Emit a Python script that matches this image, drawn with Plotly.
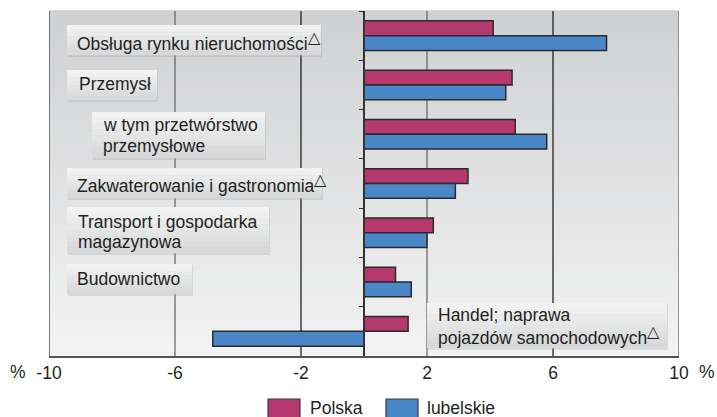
import plotly.graph_objects as go

# ---- data ----
categories = [
    "Obsługa rynku nieruchomości",
    "Przemysł",
    "w tym przetwórstwo przemysłowe",
    "Zakwaterowanie i gastronomia",
    "Transport i gospodarka magazynowa",
    "Budownictwo",
    "Handel; naprawa pojazdów samochodowych",
]
polska = [4.1, 4.7, 4.8, 3.3, 2.2, 1.0, 1.4]
lubelskie = [7.7, 4.5, 5.8, 2.9, 2.0, 1.5, -4.8]
TRI = "<sup><span style='font-size:16px'>△</span></sup>"
label_lines = [
    ["Obsługa rynku nieruchomości" + TRI],
    ["Przemysł"],
    ["w tym przetwórstwo", "przemysłowe"],
    ["Zakwaterowanie i gastronomia" + TRI],
    ["Transport i gospodarka", "magazynowa"],
    ["Budownictwo"],
    ["Handel; naprawa", "pojazdów samochodowych" + TRI],
]
tick_vals = [-10, -6, -2, 2, 6, 10]
tick_text = ["-10", "-6", "-2", "2", "6", "10"]
series_names = ["Polska", "lubelskie"]

# ---- style ----
FONT = "Liberation Sans, Arial, sans-serif"
FS = 17.5
TXT = "#231f20"
C_PL = "#b5396f"
C_LU = "#4a87c8"
EDGE = "#2a2a2a"

W, H = 717, 417
ML, MR, MT, MB = 49, 38, 11, 61
PW = W - ML - MR
PH = H - MT - MB

# label box placement in pixels: (x0, x1, y0, y1, text_left, line centres)
label_boxes = [
    (67, 321, 25, 55, 75, [41]),
    (67, 157, 70, 100, 77, [84]),
    (92, 265, 112, 158, 101, [125, 146]),
    (67, 322, 168, 198, 75, [184]),
    (67, 269, 207, 253, 76, [222, 242]),
    (67, 192, 264, 294, 75, [279]),
    (427, 667, 303, 348, 436, [315, 335]),
]

fig = go.Figure()
fig.add_trace(go.Bar(y=categories, x=polska, name=series_names[0], orientation="h",
                     marker=dict(color=C_PL, line=dict(color=EDGE, width=1.5)),
                     showlegend=False))
fig.add_trace(go.Bar(y=categories, x=lubelskie, name=series_names[1], orientation="h",
                     marker=dict(color=C_LU, line=dict(color=EDGE, width=1.5)),
                     showlegend=False))


def px_x(p):
    return (p - ML) / PW


def px_y(p):
    return (H - MB - p) / PH


def lerp(a, b, t):
    return "rgb(%d,%d,%d)" % tuple(int(round(a[k] + (b[k] - a[k]) * t)) for k in range(3))


shapes = []
# vertical gradient background of plot area
n = 40
top = (0xcf, 0xd0, 0xd2)
bot = (0xf3, 0xf3, 0xf3)
for i in range(n):
    shapes.append(dict(type="rect", xref="paper", yref="paper", x0=0, x1=1,
                       y0=i / n, y1=(i + 1) / n + 0.002, line=dict(width=0),
                       fillcolor=lerp(bot, top, (i + 0.5) / n), layer="below"))
# grid / frame lines
grid_style = {-10: ("#555555", 1.5), -6: ("#6a6a6a", 1.3), -2: ("#111111", 1.2),
              2: ("#6a6a6a", 1.3), 6: ("#111111", 1.2), 10: ("#777777", 1.5)}
for v in tick_vals:
    col, wd = grid_style[v]
    shapes.append(dict(type="line", xref="x", yref="paper", x0=v, x1=v, y0=0, y1=1,
                       line=dict(color=col, width=wd), layer="below"))

annotations = []
# label boxes (gradient light -> darker) and their text
btop = (0xf4, 0xf4, 0xf4)
bbot = (0xd6, 0xd7, 0xd8)
for lines, (x0, x1, y0, y1, tl, centres) in zip(label_lines, label_boxes):
    # soft shadow
    shapes.append(dict(type="rect", xref="paper", yref="paper",
                       x0=px_x(x0 + 1), x1=px_x(x1 + 1), y0=px_y(y1 + 2), y1=px_y(y0 + 1),
                       line=dict(width=0), fillcolor="rgba(150,150,150,0.25)"))
    m = 8
    for j in range(m):
        ya = y0 + (y1 - y0) * j / m
        yb = y0 + (y1 - y0) * (j + 1) / m
        shapes.append(dict(type="rect", xref="paper", yref="paper",
                           x0=px_x(x0), x1=px_x(x1), y0=px_y(yb + 0.3), y1=px_y(ya),
                           line=dict(width=0), fillcolor=lerp(btop, bbot, (j + 0.5) / m)))
    for txt, yc in zip(lines, centres):
        annotations.append(dict(xref="paper", yref="paper", x=px_x(tl), y=px_y(yc),
                                xanchor="left", yanchor="middle", text=txt,
                                showarrow=False, align="left",
                                font=dict(family=FONT, size=FS, color=TXT)))

# custom legend
leg = [(268, 300, 308, C_PL, series_names[0]), (386, 418, 425, C_LU, series_names[1])]
for x0, x1, xt, col, nm in leg:
    shapes.append(dict(type="rect", xref="paper", yref="paper",
                       x0=px_x(x0), x1=px_x(x1), y0=px_y(418), y1=px_y(399),
                       fillcolor=col, line=dict(color="#3a3a3a", width=1.2)))
    annotations.append(dict(xref="paper", yref="paper", x=px_x(xt), y=px_y(408),
                            xanchor="left", yanchor="middle", text=nm, showarrow=False,
                            font=dict(family=FONT, size=FS, color=TXT)))

# percent signs
annotations.append(dict(xref="paper", yref="paper", x=px_x(18), y=px_y(372),
                        xanchor="center", yanchor="middle", text="%", showarrow=False,
                        font=dict(family=FONT, size=FS, color=TXT)))
annotations.append(dict(xref="paper", yref="paper", x=px_x(707), y=px_y(372),
                        xanchor="center", yanchor="middle", text="%", showarrow=False,
                        font=dict(family=FONT, size=FS, color=TXT)))

fig.update_layout(
    width=W, height=H,
    margin=dict(l=ML, r=MR, t=MT, b=MB),
    paper_bgcolor="white", plot_bgcolor="white",
    barmode="group", bargap=0.4, bargroupgap=0,
    font=dict(family=FONT, size=FS, color=TXT),
    shapes=shapes, annotations=annotations,
    xaxis=dict(range=[-10, 10], tickvals=tick_vals, ticktext=tick_text,
               showgrid=False, zeroline=False, showline=True, linecolor="#555555",
               linewidth=1.5, ticks="", fixedrange=True,
               tickfont=dict(family=FONT, size=FS, color=TXT)),
    yaxis=dict(categoryorder="array", categoryarray=categories, autorange="reversed",
               anchor="free", position=0.5, showline=True, linecolor="#333333",
               linewidth=1.5, ticks="outside", ticklen=4, tickcolor="#333333",
               tickson="boundaries", showticklabels=False, showgrid=False,
               zeroline=False, fixedrange=True),
)

fig.write_html("out.html", config={"displayModeBar": False},
               post_script="document.body.style.margin='0px';document.body.style.overflow='hidden';")
